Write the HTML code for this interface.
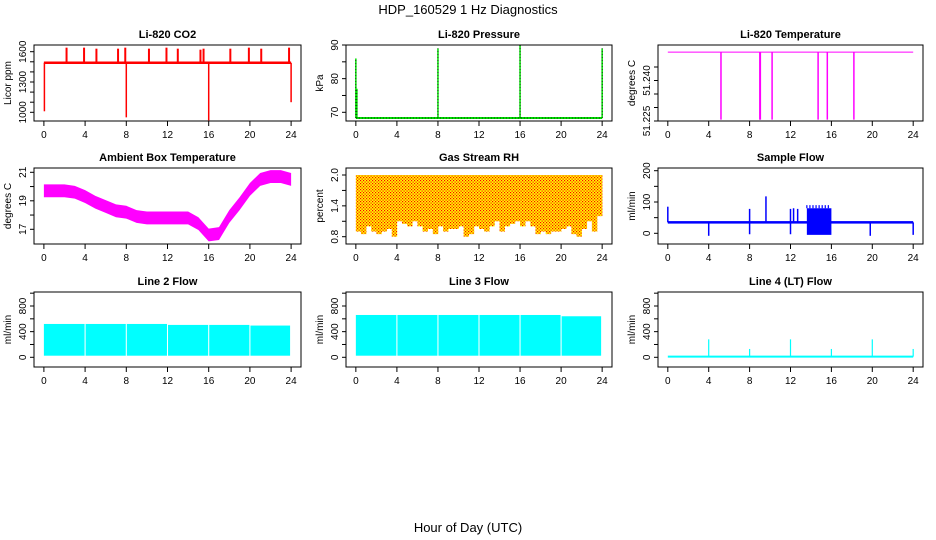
<!DOCTYPE html>
<html><head><meta charset="utf-8"><style>
html,body{margin:0;padding:0;background:#fff}
svg{display:block;font-family:"Liberation Sans",Arial,sans-serif}
</style></head><body>
<svg id="c" width="936" height="540" viewBox="0 0 936 540">
<text x="468" y="14" text-anchor="middle" font-size="13">HDP_160529  1 Hz Diagnostics</text>
<text x="468" y="532" text-anchor="middle" font-size="13">Hour of Day (UTC)</text>
</svg>
<script>
// ---- data ----
const xTicks=[0,4,8,12,16,20,24];
const co2Base=1490;
const co2UpHours=[2.2,3.9,5.1,7.2,7.9,10.2,11.9,13.0,15.2,15.5,18.1,19.9,21.1,23.8];
const co2UpVals=[1640,1640,1630,1630,1640,1630,1640,1630,1620,1630,1630,1640,1630,1640];
const co2DownHours=[0.05,8.0,16.0,24.0];
const co2DownVals=[1010,950,920,1100];
const presBase=68.3;
const presSpikeHours=[0.0,0.1,8.0,16.0,24.0];
const presSpikeVals=[86,77,89,90,89];
const tempBase=51.2505;
const tempDropHours=[5.2,9.0,9.05,10.2,14.7,15.6,18.2];
const tempDropVal=51.2255;
const ambHours=[0,1,2,3,4,5,6,7,8,9,10,11,12,13,14,15,16,17,18,19,20,21,22,23,24];
const ambVals=[19.7,19.7,19.7,19.6,19.3,18.9,18.6,18.3,18.2,17.9,17.8,17.8,17.8,17.8,17.8,17.4,16.6,16.7,17.9,18.8,19.8,20.5,20.7,20.7,20.5];
const rhTop=2.0;
const rhMin=[0.9,0.85,1.0,0.9,0.85,0.9,0.95,0.8,1.1,1.05,1.0,1.1,1.0,0.9,0.95,0.85,1.0,0.9,0.95,0.95,1.0,0.8,0.85,1.0,0.95,0.9,1.0,1.1,0.9,1.0,1.05,1.1,1.0,1.1,1.0,0.85,0.9,0.85,0.9,0.9,0.95,1.0,0.85,0.8,0.95,1.1,0.9,1.2];
const sfBase=35;
const sfSpikeHours=[0.0,4.0,8.0,8.0,9.6,12.0,12.0,12.3,12.7,19.8,24.0];
const sfSpikeVals=[85,-8,78,-3,118,78,-3,80,78,-8,-5];
const sfBurstStart=13.6, sfBurstEnd=16.0, sfBurstLo=-5, sfBurstHi=90;
const segStarts=[0,4.05,8.05,12.05,16.05,20.05];
const segEnds=[3.95,7.95,11.95,15.95,19.95,23.9];
const line2Tops=[520,520,520,505,505,495];
const line3Tops=[660,660,660,660,660,640];
const flowBottom=25;
const line4Base=10;
const line4SpikeHours=[4,8,12,16,20,24];
const line4SpikeVals=[280,130,280,130,280,130];

// ---- panels ----
const S=document.getElementById('c');const NS='http://www.w3.org/2000/svg';
function el(t,a,p){const e=document.createElementNS(NS,t);for(const k in a)e.setAttribute(k,a[k]);(p||S).appendChild(e);return e;}
const rows=[[45,121],[168,244],[292,367]];
const cols=[[34,301],[346,612],[658,923]];
function panel(ci,ri,title,ylab,v0,p0,v1,p1,ticks,labels,name){
  const [x0,x1]=cols[ci],[y0,y1]=rows[ri];
  const g=el('g',{});
  
  
  const xs=h=>x0+(h+0.96)/25.92*(x1-x0);
  const ys=v=>p0+(v-v0)*(p1-p0)/(v1-v0);
  const t=el('text',{x:(x0+x1)/2,y:y0-7,'text-anchor':'middle','font-size':'11','font-weight':'bold'},g);t.textContent=title;
  
  const yl=el('text',{x:0,y:0,'text-anchor':'middle','font-size':'10',transform:`translate(${x0-23},${(y0+y1)/2}) rotate(-90)`},g);yl.textContent=ylab;
  
  const xa=el('g',{stroke:'#000','stroke-width':1},g);
  
  el('line',{x1:xs(0),x2:xs(24),y1:y1,y2:y1},xa);
  xTicks.forEach(h=>{el('line',{x1:xs(h),x2:xs(h),y1:y1,y2:y1+5},xa);
    const l=el('text',{x:xs(h),y:y1+17,'text-anchor':'middle','font-size':'10',stroke:'none',fill:'#000'},xa);l.textContent=h;});
  const ya=el('g',{stroke:'#000','stroke-width':1},g);
  
  el('line',{x1:x0,x2:x0,y1:ys(ticks[0]),y2:ys(ticks[ticks.length-1])},ya);
  ticks.forEach(v=>el('line',{x1:x0-4,x2:x0,y1:ys(v),y2:ys(v)},ya));
  labels.forEach(v=>{const l=el('text',{x:0,y:0,'text-anchor':'middle','font-size':'10',stroke:'none',fill:'#000',transform:`translate(${x0-8},${ys(parseFloat(v))}) rotate(-90)`},ya);l.textContent=v;});
  const d=el('g',{},g);
  
  el('rect',{x:x0,y:y0,width:x1-x0,height:y1-y0,fill:'none',stroke:'#000','stroke-width':1},g);
  return {xs,ys,d};
}
function vline(d,x,ya,yb,c,w,dash){const a={x1:x,x2:x,y1:ya,y2:yb,stroke:c,'stroke-width':w||1.5};if(dash)a['stroke-dasharray']=dash;return el('line',a,d);}

// CO2
let P=panel(0,0,'Li-820 CO2','Licor ppm',1000,112.3,1600,51.7,[1000,1100,1200,1300,1400,1500,1600],['1000','1300','1600'],'co2');
el('line',{x1:P.xs(0),x2:P.xs(24),y1:P.ys(co2Base),y2:P.ys(co2Base),stroke:'#f00','stroke-width':2.5},P.d);
co2UpHours.forEach((h,i)=>vline(P.d,P.xs(h),P.ys(co2Base),P.ys(co2UpVals[i]),'#f00',2));
co2DownHours.forEach((h,i)=>vline(P.d,P.xs(h),P.ys(co2Base),P.ys(co2DownVals[i]),'#f00',1.5));

// Pressure
P=panel(1,0,'Li-820 Pressure','kPa',70,112.3,90,45,[70,75,80,85,90],['70','80','90'],'pressure');
el('line',{x1:P.xs(0),x2:P.xs(24),y1:P.ys(presBase),y2:P.ys(presBase),stroke:'#0d0','stroke-width':2},P.d);
el('line',{x1:P.xs(0),x2:P.xs(24),y1:P.ys(presBase),y2:P.ys(presBase),stroke:'#000','stroke-width':0.7,'stroke-dasharray':'1 2'},P.d);
presSpikeHours.forEach((h,i)=>{vline(P.d,P.xs(h),P.ys(presBase),P.ys(presSpikeVals[i]),'#0d0',1.5);vline(P.d,P.xs(h),P.ys(presBase),P.ys(presSpikeVals[i]),'#000',0.7,'1 2');});

// Temperature
P=panel(2,0,'Li-820 Temperature','degrees C',51.225,121,51.240,80.5,[51.225,51.230,51.235,51.240,51.245],['51.225','51.240'],'li820-temperature');
el('line',{x1:P.xs(0),x2:P.xs(24),y1:P.ys(tempBase),y2:P.ys(tempBase),stroke:'#f0f','stroke-width':1},P.d);
tempDropHours.forEach(h=>vline(P.d,P.xs(h),P.ys(tempBase),P.ys(tempDropVal),'#f0f',1.5));

// Ambient
P=panel(0,1,'Ambient Box Temperature','degrees C',17,229.3,21,172.3,[17,18,19,20,21],['17','19','21'],'ambient-temperature');
{let up='',dn='';ambHours.forEach((h,i)=>{up+=(i?'L':'M')+P.xs(h)+','+P.ys(ambVals[i]+0.45);});
 for(let i=ambHours.length-1;i>=0;i--)dn+='L'+P.xs(ambHours[i])+','+P.ys(ambVals[i]-0.45);
 el('path',{d:up+dn+'Z',fill:'#f0f'},P.d);}

// RH
P=panel(1,1,'Gas Stream RH','percent',0.8,236.7,2.0,175,[0.8,1.1,1.4,1.7,2.0],['0.8','1.4','2.0'],'gas-stream-rh');
{const defs=el('defs',{},P.d);const pt=el('pattern',{id:'rhp',width:3,height:3,patternUnits:'userSpaceOnUse'},defs);
 el('rect',{width:3,height:3,fill:'#ff0'},pt);el('rect',{x:0,y:0,width:1.2,height:1.2,fill:'#f00'},pt);el('rect',{x:1.5,y:1.5,width:1.2,height:1.2,fill:'#f00'},pt);
 const w=24/rhMin.length;
 rhMin.forEach((v,i)=>{el('rect',{x:P.xs(i*w),y:P.ys(rhTop),width:P.xs(w)-P.xs(0)+0.3,height:P.ys(v)-P.ys(rhTop),fill:'url(#rhp)'},P.d);});}

// Sample flow
P=panel(2,1,'Sample Flow','ml/min',0,233.3,200,170.7,[0,50,100,150,200],['0','100','200'],'sample-flow');
el('rect',{x:P.xs(0),y:P.ys(sfBase+4),width:P.xs(24)-P.xs(0),height:P.ys(sfBase-4)-P.ys(sfBase+4),fill:'#00f'},P.d);
sfSpikeHours.forEach((h,i)=>vline(P.d,P.xs(h),P.ys(sfBase),P.ys(sfSpikeVals[i]),'#00f',1.5));
el('rect',{x:P.xs(sfBurstStart),y:P.ys(sfBurstHi-10),width:P.xs(sfBurstEnd)-P.xs(sfBurstStart),height:P.ys(sfBurstLo)-P.ys(sfBurstHi-10),fill:'#00f'},P.d);
for(let h=sfBurstStart;h<=sfBurstEnd;h+=0.3)vline(P.d,P.xs(h),P.ys(sfBurstHi-10),P.ys(sfBurstHi),'#00f',1.2);

// Flows
function flow(ci,title,name,tops){
  const P=panel(ci,2,title,'ml/min',0,357.3,800,306,[0,200,400,600,800,1000],['0','400','800'],name);
  segStarts.forEach((s,i)=>el('rect',{x:P.xs(s),y:P.ys(tops[i]),width:P.xs(segEnds[i])-P.xs(s),height:P.ys(flowBottom)-P.ys(tops[i]),fill:'#0ff'},P.d));
}
flow(0,'Line 2 Flow','line2-flow',line2Tops);
flow(1,'Line 3 Flow','line3-flow',line3Tops);
P=panel(2,2,'Line 4 (LT) Flow','ml/min',0,357.3,800,306,[0,200,400,600,800,1000],['0','400','800'],'line4-flow');
el('line',{x1:P.xs(0),x2:P.xs(24),y1:P.ys(line4Base),y2:P.ys(line4Base),stroke:'#0ff','stroke-width':2},P.d);
line4SpikeHours.forEach((h,i)=>vline(P.d,P.xs(h),P.ys(line4Base),P.ys(line4SpikeVals[i]),'#0ff',1.2));
</script>
</body></html>
